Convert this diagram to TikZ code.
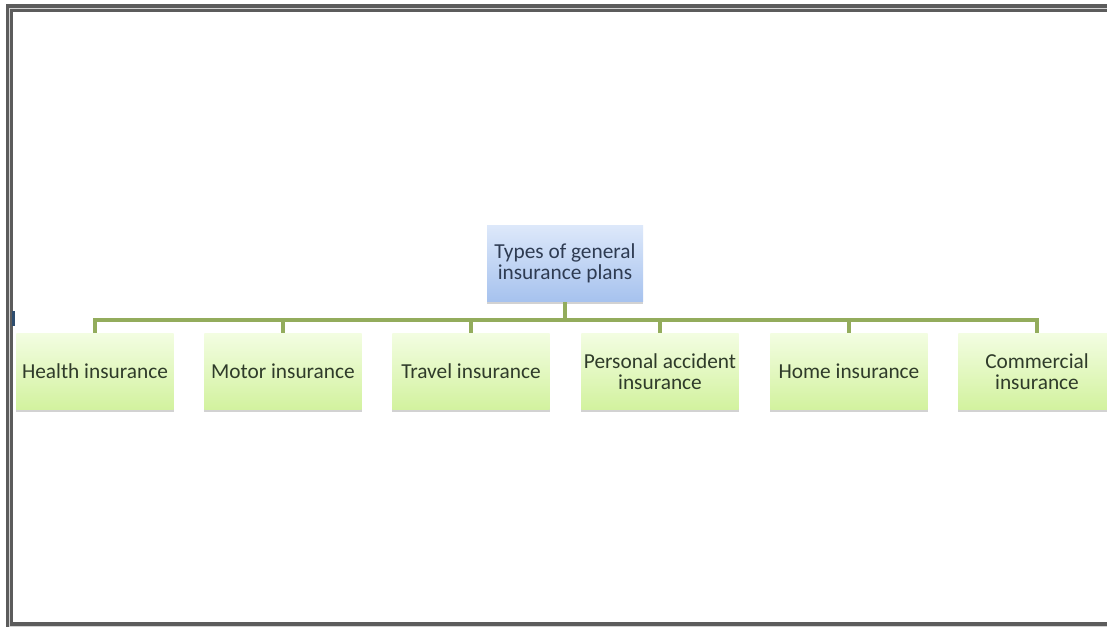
\documentclass[tikz,border=0pt]{standalone}
\usepackage{fontspec}
\setmainfont{Carlito}
\usetikzlibrary{shadows}
\definecolor{linkgreen}{HTML}{93AC5C}
\definecolor{childtop}{HTML}{F3FDE2}
\definecolor{childbot}{HTML}{D2F29E}
\definecolor{roottop}{HTML}{DDE8FA}
\definecolor{rootbot}{HTML}{A6C2EE}
\definecolor{childtext}{HTML}{2F3B2A}
\definecolor{roottext}{HTML}{2E3B52}
\definecolor{framegray}{HTML}{5C5C5C}
\definecolor{tickblue}{HTML}{2E4D6E}

\begin{document}
\begin{tikzpicture}[x=0.75pt, y=-0.75pt,
  rootbox/.style={rectangle, top color=roottop, bottom color=rootbot, draw=none,
    minimum width=117pt, minimum height=57.5pt, inner xsep=1pt, align=center,
    text=roottext, font=\fontsize{16}{15.5}\selectfont,
    drop shadow={opacity=0.35, shadow xshift=0pt, shadow yshift=-1.8pt}},
  childbox/.style={rectangle, top color=childtop, bottom color=childbot, draw=none,
    minimum width=118pt, minimum height=57.5pt, inner xsep=1pt, align=center,
    text=childtext, font=\fontsize{16}{15.5}\selectfont,
    drop shadow={opacity=0.35, shadow xshift=0pt, shadow yshift=-1.8pt}},
  link/.style={draw=linkgreen, line width=3pt}]
\useasboundingbox (0,0) rectangle (1107,627);
\clip (0,0) rectangle (1107,627);
\fill[white] (0,0) rectangle (1107,627);
\draw[framegray, line width=2.6pt, double=gray!35, double distance=0.6pt]
  (1120,8) -- (9.5,8) -- (9.5,626) -- (1120,626);
\fill[tickblue] (11.5,311) rectangle (15,326);

\node[rootbox] at (565,263.5) (root) {Types of general\\insurance plans};
\node[childbox] at (95,371.5) (health) {Health insurance};
\node[childbox] at (283,371.5) (motor) {Motor insurance};
\node[childbox] at (471,371.5) (travel) {Travel insurance};
\node[childbox] at (660,371.5) (personal) {Personal accident\\insurance};
\node[childbox] at (849,371.5) (home) {Home insurance};
\node[childbox] at (1037,371.5) (commercial) {Commercial\\insurance};

\coordinate (bus) at (565,320);
\draw[link] (root.south) -- (bus);
\draw[link] (health.north) |- (bus);
\draw[link] (motor.north) |- (bus);
\draw[link] (travel.north) |- (bus);
\draw[link] (personal.north) |- (bus);
\draw[link] (home.north) |- (bus);
\draw[link] (commercial.north) |- (bus);
\end{tikzpicture}
\end{document}
